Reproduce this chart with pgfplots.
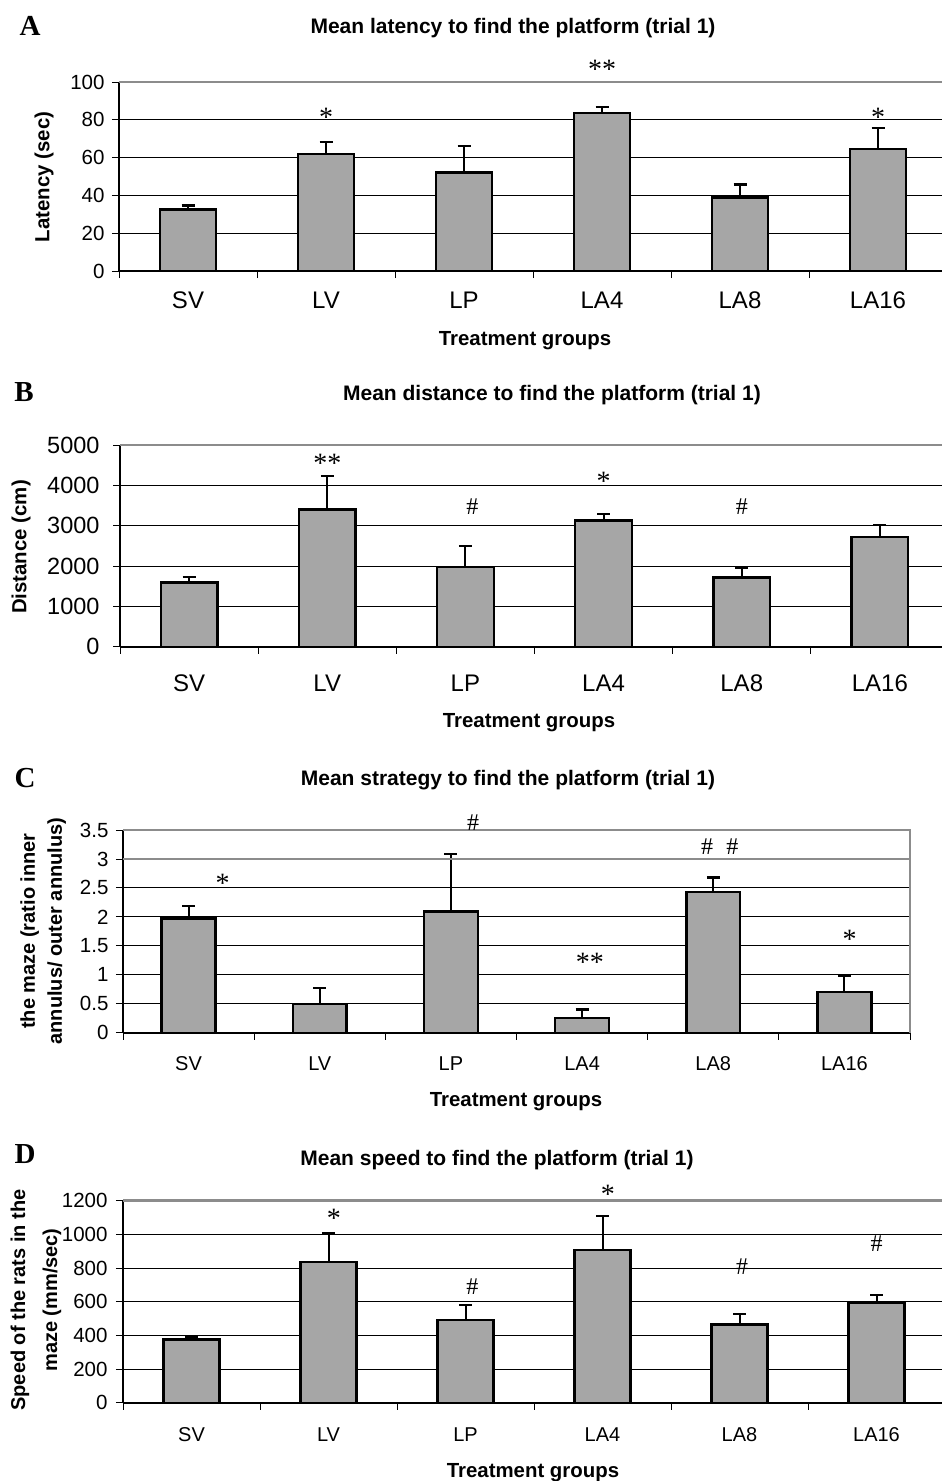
\documentclass[border=0pt]{standalone}
\usepackage{pgfplots}
\usepackage{pgfplotstable}
\pgfplotsset{compat=1.18}
\usepackage{fontspec}
\setmainfont{Liberation Sans}
\newfontfamily\serif{Liberation Serif}
\definecolor{barfill}{RGB}{166,166,166}
\definecolor{bordergray}{RGB}{140,140,140}
\newcommand{\fs}[1]{\fontsize{#1}{#1}\selectfont}

\pgfplotstableread{
x y e
0 32.6 2.1
1 61.8 6.3
2 52.1 13.9
3 83.5 3.1
4 38.9 6.9
5 64.6 11.1
}\dataA
\pgfplotstableread{
x y e
0 1587 132
1 3405 826
2 1983 521
3 3124 165
4 1719 240
5 2727 298
}\dataB
\pgfplotstableread{
x y e
0 1.97 0.22
1 0.495 0.275
2 2.09 0.99
3 0.25 0.15
4 2.43 0.25
5 0.70 0.28
}\dataC
\pgfplotstableread{
x y e
0 376 16
1 836 170
2 493 89
3 907 200
4 465 64
5 592 50
}\dataD

\tikzset{ann/.style={font=\serif\fs{24}, anchor=center},
         star/.style={font=\serif\fs{28}, anchor=center, yshift=-4pt}}
\pgfplotsset{
  panel/.style={
    scale only axis, anchor=south west,
    xmin=-0.5, xmax=5.5, ymin=0,
    axis x line*=bottom, axis y line*=left,
    axis line style={-, black, line width=1.8pt},
    ymajorgrids, grid style={black, line width=0.9pt},
    xtick={-0.5,0.5,...,5.5}, xticklabels={},
    extra x ticks={0,1,2,3,4,5},
    extra x tick labels={SV,LV,LP,LA4,LA8,LA16},
    extra x tick style={major tick length=0pt, grid=none},
    major tick length=7pt, tick align=outside,
    tick style={black, line width=0.9pt},
    /pgf/number format/assume math mode=true,
    /pgf/number format/1000 sep={},
    scaled y ticks=false,
    bar width=0.41,
    clip=false,
  },
  bars/.style={ybar, fill=barfill, draw=black, line width=2.4pt,
    error bars/.cd, y dir=plus, y explicit,
    error bar style={line width=2pt, black},
    error mark options={rotate=90, mark size=6.5pt, line width=2.2pt, black}},
}

\begin{document}
\begin{tikzpicture}
\useasboundingbox (0,0) rectangle (942pt,-1481pt);

% ---------------- A ----------------
\begin{axis}[panel, at={(119pt,-271pt)}, width=828pt, height=189pt,
  ymax=100, ytick={0,20,...,100},
  yticklabel style={font=\fs{20.5}, xshift=-4pt},
  xticklabel style={font=\fs{24}, text height=17.3pt, text depth=0pt, yshift=-17pt}]
\addplot[bars] table[x=x, y=y, y error=e] {\dataA};
\draw[bordergray, line width=2.5pt] (rel axis cs:0,1) -- (rel axis cs:1,1) -- (rel axis cs:1,0);
\node[star] at (axis cs:1,83.6) {*};
\node[star] at (axis cs:3,109) {**};
\node[star] at (axis cs:5,83.6) {*};
\end{axis}
\node[font=\serif\bfseries\fs{29}, anchor=base] at (30pt,-35pt) {A};
\node[font=\bfseries\fs{21}, anchor=base] at (513pt,-33pt) {Mean latency to find the platform (trial 1)};
\node[font=\bfseries\fs{20.4}, anchor=base] at (525pt,-345pt) {Treatment groups};
\node[font=\bfseries\fs{20.4}, rotate=90, anchor=center] at (44pt,-177pt) {Latency (sec)};

% ---------------- B ----------------
\begin{axis}[panel, at={(120pt,-646.7pt)}, width=829pt, height=201.7pt,
  ymax=5000, ytick={0,1000,...,5000},
  yticklabel style={font=\fs{23.5}, xshift=-10pt},
  xticklabel style={font=\fs{24}, text height=17.3pt, text depth=0pt, yshift=-24pt}]
\addplot[bars] table[x=x, y=y, y error=e] {\dataB};
\draw[bordergray, line width=2.5pt] (rel axis cs:0,1) -- (rel axis cs:1,1) -- (rel axis cs:1,0);
\node[star] at (axis cs:1,4646) {**};
\node[ann] at (axis cs:2.05,3471) {\#};
\node[star] at (axis cs:3,4190) {*};
\node[ann] at (axis cs:4,3471) {\#};
\end{axis}
\node[font=\serif\bfseries\fs{29}, anchor=base] at (24pt,-401pt) {B};
\node[font=\bfseries\fs{21}, anchor=base] at (552pt,-400pt) {Mean distance to find the platform (trial 1)};
\node[font=\bfseries\fs{20.4}, anchor=base] at (529pt,-727.6pt) {Treatment groups};
\node[font=\bfseries\fs{20.4}, rotate=90, anchor=center] at (21pt,-547pt) {Distance (cm)};

% ---------------- C ----------------
\begin{axis}[panel, at={(123pt,-1032.7pt)}, width=787pt, height=202.7pt,
  ymax=3.5, ytick={0,0.5,...,3.5},
  yticklabel style={font=\fs{20.5}, xshift=-4pt},
  xticklabel style={font=\fs{20}, text height=14.4pt, text depth=0pt, yshift=-20pt}]
\addplot[bars] table[x=x, y=y, y error=e] {\dataC};
\draw[bordergray, line width=2.5pt] (axis cs:-0.5,3) -- (axis cs:5.5,3);
\draw[bordergray, line width=2.5pt] (rel axis cs:0,1) -- (rel axis cs:1,1) -- (rel axis cs:1,0);
\node[star] at (axis cs:0.26,2.64) {*};
\node[ann] at (axis cs:2.17,3.62) {\#};
\node[star] at (axis cs:3.06,1.29) {**};
\node[ann] at (axis cs:4.05,3.21) {\#\hspace{0.55em}\#};
\node[star] at (axis cs:5.04,1.69) {*};
\end{axis}
\node[font=\serif\bfseries\fs{29}, anchor=base] at (25pt,-787pt) {C};
\node[font=\bfseries\fs{21}, anchor=base] at (508pt,-785pt) {Mean strategy to find the platform (trial 1)};
\node[font=\bfseries\fs{20.4}, anchor=base] at (516pt,-1106.6pt) {Treatment groups};
\node[font=\bfseries\fontsize{20}{27}\selectfont, rotate=90, anchor=center, align=center] at (43.3pt,-931pt) {the maze (ratio inner\\annulus/ outer annulus)};

% ---------------- D ----------------
\begin{axis}[panel, at={(123pt,-1402.7pt)}, width=822pt, height=202pt,
  ymax=1200, ytick={0,200,...,1200},
  yticklabel style={font=\fs{20.5}, xshift=-5pt},
  xticklabel style={font=\fs{20}, text height=14.4pt, text depth=0pt, yshift=-21pt}]
\addplot[bars] table[x=x, y=y, y error=e] {\dataD};
\draw[bordergray, line width=2.5pt] (rel axis cs:0,1) -- (rel axis cs:1,1) -- (rel axis cs:1,0);
\node[star] at (axis cs:1.04,1121) {*};
\node[ann] at (axis cs:2.05,689) {\#};
\node[star] at (axis cs:3.04,1264) {*};
\node[ann] at (axis cs:4.02,808) {\#};
\node[ann] at (axis cs:5,947) {\#};
\end{axis}
\node[font=\serif\bfseries\fs{29}, anchor=base] at (25pt,-1163pt) {D};
\node[font=\bfseries\fs{21}, anchor=base] at (497pt,-1165pt) {Mean speed to find the platform (trial 1)};
\node[font=\bfseries\fs{20.4}, anchor=base] at (533pt,-1477pt) {Treatment groups};
\node[font=\bfseries\fontsize{20}{32}\selectfont, rotate=90, anchor=center, align=center] at (36pt,-1300pt) {Speed of the rats in the\\maze (mm/sec)};
\end{tikzpicture}
\end{document}
